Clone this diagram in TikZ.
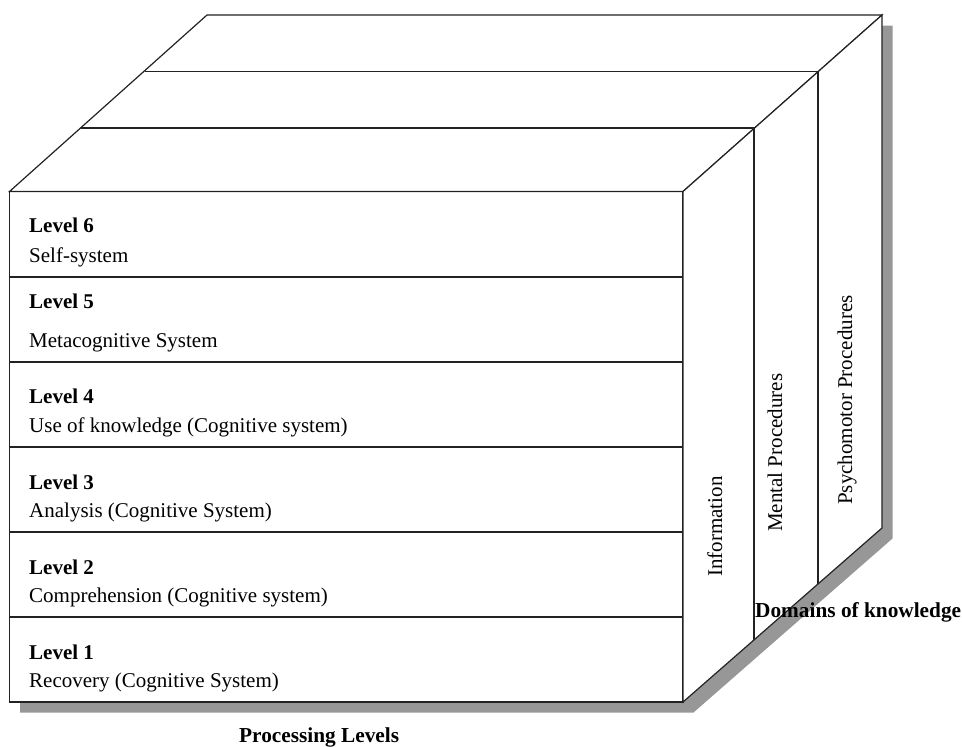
\documentclass[tikz,border=0pt]{standalone}
\usepackage{fontspec}
\setmainfont{Liberation Serif}
\definecolor{shadowgray}{HTML}{979797}
\definecolor{edgecol}{HTML}{222222}
\begin{document}
\begin{tikzpicture}[x=1pt,y=-1pt,
  edge/.style={draw=edgecol, line width=1.2pt, line join=miter},
  face/.style={edge, fill=white},
  lvl/.style={anchor=base west, inner sep=0pt, font=\fontsize{21}{25}\selectfont\bfseries},
  desc/.style={anchor=base west, inner sep=0pt, font=\fontsize{21}{25}\selectfont},
  dom/.style={rotate=90, anchor=base west, inner sep=0pt, font=\fontsize{21}{25}\selectfont},
  caption/.style={anchor=base west, inner sep=0pt, font=\fontsize{21.3}{25}\selectfont\bfseries}]
\useasboundingbox (0,0) rectangle (962,747);

% corner coordinates
\coordinate (ftl) at (9.5,191.5);
\coordinate (ftr) at (683,191.5);
\coordinate (fbr) at (683,702);
\coordinate (fbl) at (9.5,702);
\coordinate (btl) at (207,15);
\coordinate (btr) at (882,15);
\coordinate (bbr) at (882,528);

% shadow
\fill[shadowgray, shift={(10.5,10.5)}] (9.5,191.5) -- (207,15) -- (882,15) -- (882,528) -- (683,702) -- (9.5,702) -- cycle;

% faces
\draw[face] (ftl) rectangle (fbr);
\draw[face] (ftl) -- (btl) -- (btr) -- (ftr) -- cycle;
\draw[face] (ftr) -- (btr) -- (bbr) -- (fbr) -- cycle;

% depth slices
\coordinate (s1l) at (80.8,128);
\coordinate (s1r) at (754,128);
\coordinate (s1b) at (754,640);
\coordinate (s2l) at (144.5,71.5);
\coordinate (s2r) at (818,71.5);
\coordinate (s2b) at (818,584);
\draw[edge] (s1l) -- (s1r) -- (s1b);
\draw[edge] (s2l) -- (s2r) -- (s2b);

% level rows
\foreach \y in {277,362,447,532,617}
  \draw[edge] (9.5,\y) -- (683,\y);

% level texts
\node[lvl]  (l6) at (29,232) {Level 6};
\node[desc] (d6) at (29,262) {Self-system};
\node[lvl]  (l5) at (29,308) {Level 5};
\node[desc] (d5) at (29,347) {Metacognitive System};
\node[lvl]  (l4) at (29,403) {Level 4};
\node[desc] (d4) at (29,432) {Use of knowledge (Cognitive system)};
\node[lvl]  (l3) at (29,489) {Level 3};
\node[desc] (d3) at (29,517) {Analysis (Cognitive System)};
\node[lvl]  (l2) at (29,574) {Level 2};
\node[desc] (d2) at (29,602) {Comprehension (Cognitive system)};
\node[lvl]  (l1) at (29,659) {Level 1};
\node[desc] (d1) at (29,687) {Recovery (Cognitive System)};

% domain texts
\node[dom] (inf) at (722,577) {Information};
\node[dom] (men) at (782,532) {Mental Procedures};
\node[dom] (psy) at (852,505) {Psychomotor Procedures};

% captions
\node[caption] (dk) at (755,617) {Domains of knowledge};
\node[caption] (pl) at (239,742) {Processing Levels};
\end{tikzpicture}
\end{document}
